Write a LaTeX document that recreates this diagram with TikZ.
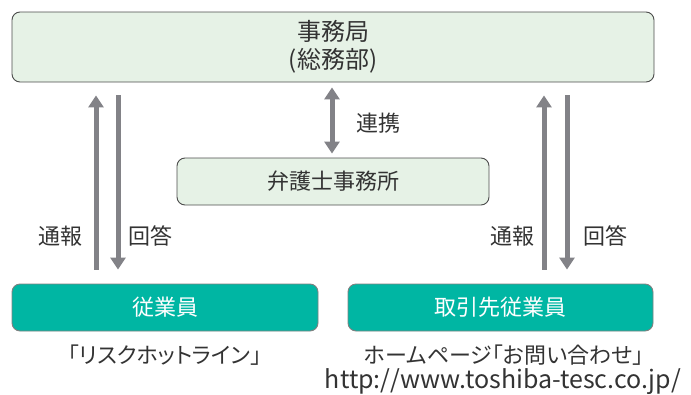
\documentclass[tikz,border=0pt]{standalone}
\usepackage{fontspec}
\setmainfont{Noto Sans CJK JP}[RawFeature=+palt]
\usetikzlibrary{arrows.meta}

\definecolor{paleGreen}{HTML}{E6F2E6}
\definecolor{teal}{HTML}{00B6A3}
\definecolor{arrowGray}{HTML}{828287}
\definecolor{textGray}{HTML}{333333}

\begin{document}
\begin{tikzpicture}[x=1pt, y=-1pt,
  lightbox/.style={draw=black!70, line width=0.9pt, fill=paleGreen, rounded corners=8pt, text=textGray, align=center, inner sep=0pt},
  tealbox/.style={draw=black!50, line width=0.9pt, fill=teal, rounded corners=8pt, text=white, inner sep=0pt, minimum height=47pt},
  flow/.style={arrowGray, line width=5pt, -{Triangle[width=15pt,length=12pt]}},
  label/.style={text=textGray, inner sep=0pt},
  every node/.style={font=\fontsize{22pt}{27pt}\selectfont}]

  \useasboundingbox (0, 0) rectangle (691, 394);

  \node[lightbox, minimum width=642pt, minimum height=70pt, font=\fontsize{24pt}{28.5pt}\selectfont] (office) at (333, 47) {事務局\\(総務部)};
  \node[lightbox, minimum width=312pt, minimum height=47pt] (lawyer) at (333, 181.5) {弁護士事務所};
  \node[tealbox, minimum width=306pt] (staff) at (165, 307.5) {従業員};
  \node[tealbox, minimum width=305pt] (partner) at (500.5, 307.5) {取引先従業員};

  \draw[flow] ([xshift=-69pt, yshift=14pt]staff.north) -- ([xshift=-69pt, yshift=-13pt]staff.north |- office.south);
  \draw[flow] ([xshift=-47pt, yshift=-13pt]staff.north |- office.south) -- ([xshift=-47pt, yshift=14pt]staff.north);
  \draw[flow] ([xshift=43.5pt, yshift=14pt]partner.north) -- ([xshift=43.5pt, yshift=-13pt]partner.north |- office.south);
  \draw[flow] ([xshift=66.5pt, yshift=-13pt]partner.north |- office.south) -- ([xshift=66.5pt, yshift=14pt]partner.north);
  \draw[flow, {Triangle[width=15pt,length=12pt]}-{Triangle[width=15pt,length=12pt]}] ([xshift=-1pt, yshift=-5pt]office.south) -- ([xshift=-1pt, yshift=4pt]lawyer.north);

  \node[label] (reportL) at (60, 236) {通報};
  \node[label] (answerL) at (150, 236) {回答};
  \node[label] (reportR) at (512, 236) {通報};
  \node[label] (answerR) at (605, 236) {回答};
  \node[label] (link) at (378, 123) {連携};

  \node[label] (hotline) at (165, 355) {「リスクホットライン」};
  \node[label] (inquiry) at (504, 355) {ホームページ「お問い合わせ」};
  \node[label, font=\fontsize{25pt}{30pt}\selectfont] (url) at (503, 382) {http://www.toshiba-tesc.co.jp/};
\end{tikzpicture}
\end{document}
